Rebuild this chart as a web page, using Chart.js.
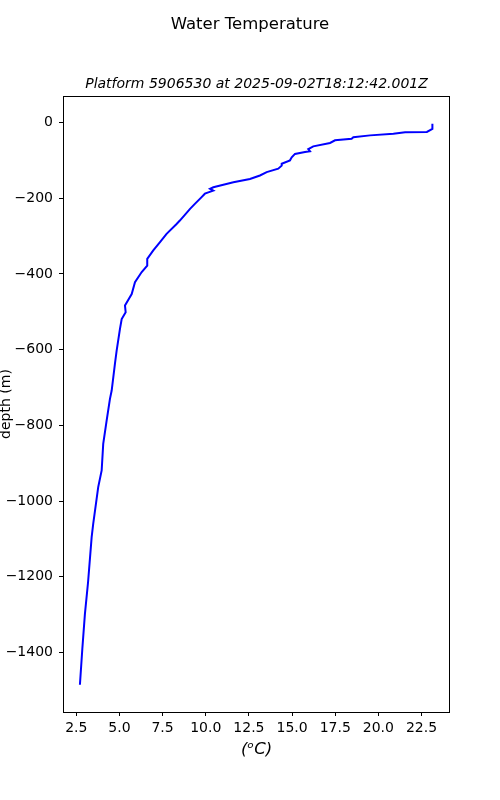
<!DOCTYPE html>
<html>
<head>
<meta charset="utf-8">
<script src="https://cdn.jsdelivr.net/npm/chart.js@4"></script>
<style>
  html, body { margin: 0; padding: 0; background: #fff; }
  #wrap { width: 500px; height: 800px; }
</style>
</head>
<body>
<div id="wrap"><canvas id="profile" width="500" height="800"></canvas></div>
<script>
// profile, surface to bottom
const temperature = [
    23.13, 23.13, 22.81, 21.55, 20.87, 19.52, 18.55, 18.45, 17.49, 17.2,
    16.23, 15.94, 16.04, 15.75, 15.17, 14.98, 14.88, 14.4, 14.4, 14.2,
    13.53, 13.14, 12.56, 11.6, 10.44, 10.25, 10.44, 9.95, 9.76, 9.37,
    9.09, 8.5, 8.31, 7.73, 7.35, 6.96, 6.61, 6.61, 6.29, 5.9,
    5.71, 5.32, 5.36, 5.13, 5.03, 4.84, 4.74, 4.55, 4.45, 4.26,
    4.06, 3.97, 3.77, 3.48, 3.39, 3.18, 3.0, 2.85, 2.71
];
const depth = [
    -3, -17, -25, -26, -30, -34, -39, -43, -47, -54,
    -63, -70, -76, -78, -83, -92, -100, -109, -114, -122,
    -131, -140, -149, -158, -171, -175, -180, -188, -197, -215,
    -228, -259, -268, -294, -316, -338, -360, -378, -395, -422,
    -453, -483, -501, -519, -545, -602, -637, -708, -730, -787,
    -849, -919, -963, -1060, -1095, -1215, -1298, -1390, -1485
];
const xTicks = [2.5, 5, 7.5, 10, 12.5, 15, 17.5, 20, 22.5];
const yTicks = [0, -200, -400, -600, -800, -1000, -1200, -1400];

const title = "Water Temperature";
const subtitle = "Platform 5906530 at 2025-09-02T18:12:42.001Z";
const xLabel = "(\u1D52C)";
const yLabel = "depth (m)";

const FONT = "'DejaVu Sans', sans-serif";

// frame + titles drawn on top of the chart
const decorations = {
    id: "decorations",
    afterDraw(chart) {
        const ctx = chart.ctx;
        const a = chart.chartArea;
        const cx = (a.left + a.right) / 2;
        ctx.save();
        ctx.strokeStyle = "#000";
        ctx.lineWidth = 1;
        ctx.strokeRect(a.left + 0.5, a.top + 0.5, a.right - a.left - 1, a.bottom - a.top);

        ctx.fillStyle = "#000";
        ctx.textAlign = "center";
        ctx.textBaseline = "middle";
        ctx.font = "16.5px " + FONT;
        ctx.fillText(title, 250, 25);
        ctx.font = "italic 14px " + FONT;
        ctx.fillText(subtitle, cx, 84);
        ctx.font = "italic 16.5px " + FONT;
        ctx.fillText(xLabel, cx, 750);

        ctx.translate(6, (a.top + a.bottom) / 2);
        ctx.rotate(-Math.PI / 2);
        ctx.font = "14px " + FONT;
        ctx.fillText(yLabel, 0, 0);
        ctx.restore();
    }
};

const points = temperature.map((t, i) => ({ x: t, y: depth[i] }));

new Chart(document.getElementById("profile"), {
    type: "scatter",
    data: {
        datasets: [{
            data: points,
            showLine: true,
            borderColor: "#0000ff",
            borderWidth: 2,
            pointRadius: 0,
            fill: false,
            tension: 0
        }]
    },
    options: {
        responsive: false,
        animation: false,
        layout: { padding: { top: 96, right: 50, bottom: 0, left: 0 } },
        plugins: {
            legend: { display: false },
            tooltip: { enabled: false }
        },
        scales: {
            x: {
                type: "linear",
                min: 1.73,
                max: 24.15,
                afterFit: (scale) => { scale.height = 88; },
                afterBuildTicks: (scale) => { scale.ticks = xTicks.map(v => ({ value: v })); },
                grid: { drawOnChartArea: false, drawTicks: true, tickLength: 4, color: "#000" },
                border: { display: false },
                ticks: {
                    color: "#000",
                    font: { family: FONT, size: 14 },
                    padding: 4,
                    maxRotation: 0,
                    callback: (v) => Number(v).toFixed(1)
                }
            },
            y: {
                type: "linear",
                min: -1557,
                max: 70,
                afterFit: (scale) => { scale.width = 63; },
                afterBuildTicks: (scale) => { scale.ticks = yTicks.map(v => ({ value: v })); },
                grid: { drawOnChartArea: false, drawTicks: true, tickLength: 4, color: "#000" },
                border: { display: false },
                ticks: {
                    color: "#000",
                    font: { family: FONT, size: 14 },
                    padding: 6,
                    callback: (v) => v < 0 ? "\u2212" + Math.abs(v) : String(v)
                }
            }
        }
    },
    plugins: [decorations]
});
</script>
</body>
</html>
